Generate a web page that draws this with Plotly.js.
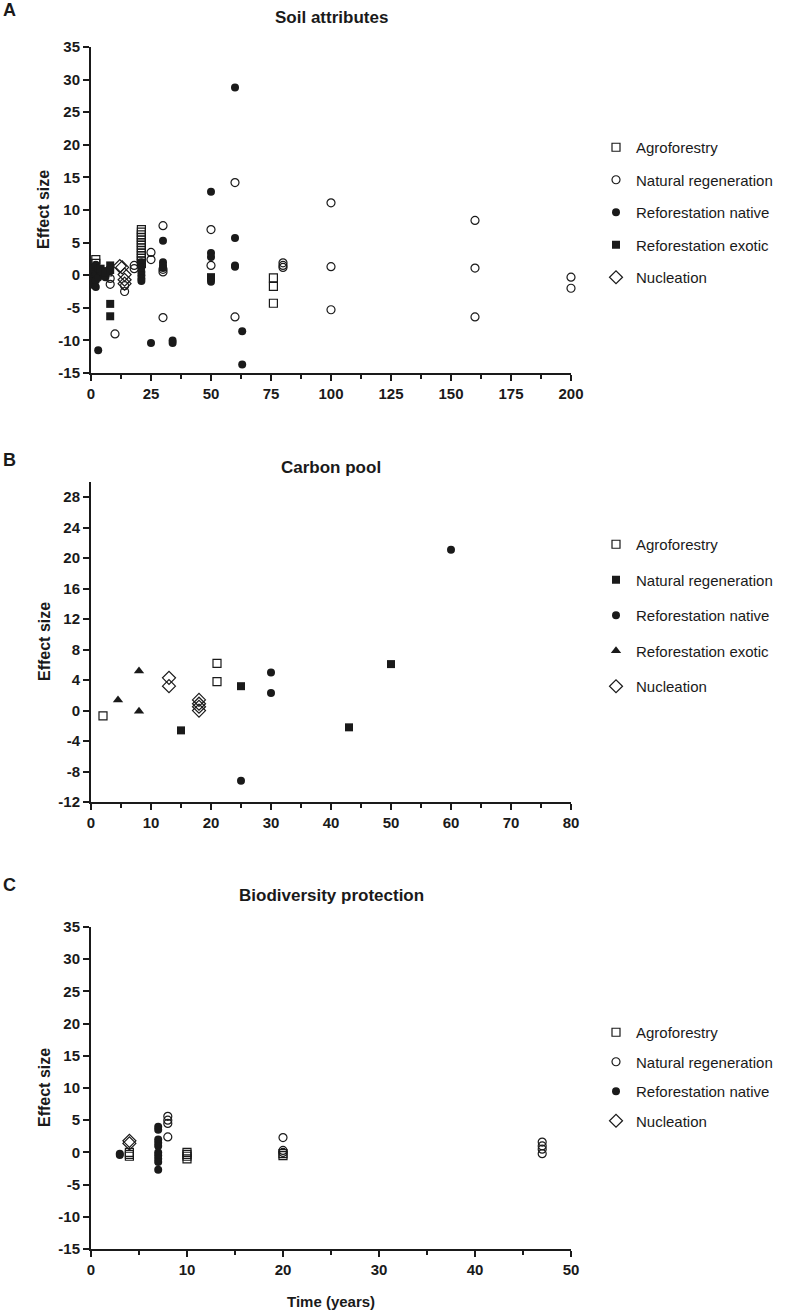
<!DOCTYPE html>
<html>
<head>
<meta charset="utf-8">
<script src="https://cdn.plot.ly/plotly-3.0.1.min.js"></script>
<style>html,body{margin:0;padding:0;background:#fff;}#chart{width:790px;height:1310px;}</style>
</head>
<body>
<div id="chart"></div>
<script>
// ---------- Panel A: Soil attributes ----------
const A_agro_x = [2, 2, 7, 21, 21, 21, 21, 21, 21, 21, 21, 21, 21, 21, 21, 21, 21, 76, 76, 76];
const A_agro_y = [2.4, 1.8, 0.5, 7.0, 6.6, 6.2, 5.8, 5.4, 5.0, 4.6, 4.2, 3.8, 3.4, 3.0, 2.6, 2.2, 1.8, -0.4, -1.7, -4.3];
const A_nat_x = [8, 8, 10, 14, 14, 18, 18, 25, 25, 30, 30, 30, 30, 50, 50, 60, 60, 80, 80, 80, 100, 100, 100, 160, 160, 160, 200, 200];
const A_nat_y = [-0.5, -1.4, -9.0, -1.6, -2.5, 1.5, 1.0, 3.5, 2.4, 7.6, 0.9, 0.5, -6.5, 7.0, 1.5, 14.2, -6.4, 1.9, 1.5, 1.2, 11.1, 1.3, -5.3, 8.4, 1.1, -6.4, -0.3, -2.0];
const A_rnat_x = [1, 1, 1, 1, 1, 2, 2, 2, 2, 3, 3, 3, 4, 5, 6, 21, 21, 21, 21, 21, 21, 25, 30, 30, 30, 30, 34, 34, 50, 50, 50, 50, 50, 60, 60, 60, 60, 63, 63];
const A_rnat_y = [1.2, 0.5, -0.3, -1.0, -1.5, 1.6, 0.2, -0.8, -1.8, 1.0, -0.4, -11.5, 0.6, 0.2, -0.3, 2.0, 1.2, 0.5, 0.0, -0.5, -0.9, -10.4, 5.3, 2.0, 1.5, 1.1, -10.0, -10.4, 12.8, 3.4, 2.8, -0.6, -1.0, 28.8, 5.7, 1.5, 1.3, -8.6, -13.7];
const A_rexo_x = [4, 5, 6, 8, 8, 8, 8, 50];
const A_rexo_y = [1.0, 0.6, 0.4, 1.5, 0.8, -4.4, -6.3, -0.3];
const A_nuc_x = [12, 13, 14, 14, 14];
const A_nuc_y = [1.4, 1.2, 0.1, -0.7, -1.3];

// ---------- Panel B: Carbon pool ----------
const B_agro_x = [2, 21, 21];
const B_agro_y = [-0.7, 6.2, 3.8];
const B_nat_x = [15, 25, 43, 50];
const B_nat_y = [-2.6, 3.2, -2.2, 6.1];
const B_rnat_x = [25, 30, 30, 60];
const B_rnat_y = [-9.2, 5.0, 2.3, 21.1];
const B_rexo_x = [4.5, 8, 8];
const B_rexo_y = [1.4, 5.2, -0.1];
const B_nuc_x = [13, 13, 18, 18, 18, 18];
const B_nuc_y = [4.3, 3.2, 1.4, 0.9, 0.5, 0.0];

// ---------- Panel C: Biodiversity protection ----------
const C_agro_x = [4, 4, 4, 10, 10, 10, 10, 20, 20];
const C_agro_y = [0.0, -0.3, -0.6, 0.0, -0.3, -0.6, -1.0, -0.2, -0.5];
const C_nat_x = [8, 8, 8, 8, 20, 20, 20, 47, 47, 47, 47];
const C_nat_y = [5.6, 5.0, 4.5, 2.4, 2.3, 0.3, 0.0, 1.6, 1.0, 0.5, -0.2];
const C_rnat_x = [3, 3, 7, 7, 7, 7, 7, 7, 7, 7, 7, 7];
const C_rnat_y = [-0.2, -0.4, 4.0, 3.5, 2.0, 1.5, 1.0, 0.0, -0.5, -1.0, -1.5, -2.7];
const C_nuc_x = [4, 4];
const C_nuc_y = [1.8, 1.4];

// tick labels
const A_xticks = [0, 25, 50, 75, 100, 125, 150, 175, 200];
const A_yticks = [-15, -10, -5, 0, 5, 10, 15, 20, 25, 30, 35];
const B_xticks = [0, 10, 20, 30, 40, 50, 60, 70, 80];
const B_yticks = [-12, -8, -4, 0, 4, 8, 12, 16, 20, 24, 28];
const C_xticks = [0, 10, 20, 30, 40, 50];
const C_yticks = [-15, -10, -5, 0, 5, 10, 15, 20, 25, 30, 35];

// labels
const titles = ["Soil attributes", "Carbon pool", "Biodiversity protection"];
const panelLetters = ["A", "B", "C"];
const namesA = ["Agroforestry", "Natural regeneration", "Reforestation native", "Reforestation exotic", "Nucleation"];
const namesB = ["Agroforestry", "Natural regeneration", "Reforestation native", "Reforestation exotic", "Nucleation"];
const namesC = ["Agroforestry", "Natural regeneration", "Reforestation native", "Nucleation"];

const W = 790, H = 1310;
const px = v => v / W;
const py = v => 1 - v / H;
const ink = '#1a1a1a';
const FAM = 'Arial, Liberation Sans, sans-serif';

function tr(x, y, name, symbol, xa, ya, leg, grp) {
  const open = symbol.indexOf('open') >= 0;
  let size = 8;
  if (symbol.indexOf('diamond') >= 0) size = 10;
  if (symbol.indexOf('triangle') >= 0) size = 9;
  return {
    type: 'scatter', mode: 'markers', x: x, y: y, name: name,
    xaxis: xa, yaxis: ya, legend: leg, legendgroup: grp, cliponaxis: false,
    marker: {symbol: symbol, size: size, color: ink, line: {color: ink, width: open ? 1.2 : 0}}
  };
}

const data = [
  tr(A_agro_x, A_agro_y, namesA[0], 'square-open', 'x', 'y', 'legend', 'a1'),
  tr(A_nat_x, A_nat_y, namesA[1], 'circle-open', 'x', 'y', 'legend', 'a2'),
  tr(A_rnat_x, A_rnat_y, namesA[2], 'circle', 'x', 'y', 'legend', 'a3'),
  tr(A_rexo_x, A_rexo_y, namesA[3], 'square', 'x', 'y', 'legend', 'a4'),
  tr(A_nuc_x, A_nuc_y, namesA[4], 'diamond-open', 'x', 'y', 'legend', 'a5'),

  tr(B_agro_x, B_agro_y, namesB[0], 'square-open', 'x2', 'y2', 'legend2', 'b1'),
  tr(B_nat_x, B_nat_y, namesB[1], 'square', 'x2', 'y2', 'legend2', 'b2'),
  tr(B_rnat_x, B_rnat_y, namesB[2], 'circle', 'x2', 'y2', 'legend2', 'b3'),
  tr(B_rexo_x, B_rexo_y, namesB[3], 'triangle-up', 'x2', 'y2', 'legend2', 'b4'),
  tr(B_nuc_x, B_nuc_y, namesB[4], 'diamond-open', 'x2', 'y2', 'legend2', 'b5'),

  tr(C_agro_x, C_agro_y, namesC[0], 'square-open', 'x3', 'y3', 'legend3', 'c1'),
  tr(C_nat_x, C_nat_y, namesC[1], 'circle-open', 'x3', 'y3', 'legend3', 'c2'),
  tr(C_rnat_x, C_rnat_y, namesC[2], 'circle', 'x3', 'y3', 'legend3', 'c3'),
  tr(C_nuc_x, C_nuc_y, namesC[3], 'diamond-open', 'x3', 'y3', 'legend3', 'c4')
];

const tickFont = {family: FAM, size: 15, color: ink};
const bold = arr => arr.map(v => '<b>' + v + '</b>');
function xax(domain, range, ticks, minor, anchor) {
  return {domain: domain, range: range, tickmode: 'array', tickvals: ticks, ticktext: bold(ticks), anchor: anchor,
    showline: true, linewidth: 2, linecolor: ink, ticks: 'outside', ticklen: 6, tickwidth: 2, tickcolor: ink,
    minor: {ticks: 'outside', ticklen: 4, tickwidth: 2, tickcolor: ink, dtick: minor, tick0: 0},
    showgrid: false, zeroline: false, tickfont: tickFont, fixedrange: true};
}
function yax(domain, range, ticks, anchor) {
  return {domain: domain, range: range, tickmode: 'array', tickvals: ticks, ticktext: bold(ticks), anchor: anchor,
    showline: true, linewidth: 2, linecolor: ink, ticks: 'outside', ticklen: 6, tickwidth: 2, tickcolor: ink,
    showgrid: false, zeroline: false, tickfont: tickFont, fixedrange: true};
}
function leg(xp, yp, gap) {
  return {x: px(xp), y: py(yp), xanchor: 'left', yanchor: 'top', traceorder: 'grouped', tracegroupgap: gap,
    font: {family: FAM, size: 15, color: ink}, bgcolor: 'rgba(0,0,0,0)', itemclick: false};
}

const xd = [px(91), px(571)];
const layout = {
  width: W, height: H, margin: {l: 0, r: 0, t: 0, b: 0}, paper_bgcolor: '#fff', plot_bgcolor: '#fff',
  showlegend: true,
  xaxis: xax(xd, [0, 200], A_xticks, 12.5, 'y'),
  yaxis: yax([py(373), py(47)], [-15, 35], A_yticks, 'x'),
  xaxis2: xax(xd, [0, 80], B_xticks, 5, 'y2'),
  yaxis2: yax([py(802), py(482)], [-12, 30], B_yticks, 'x2'),
  xaxis3: xax(xd, [0, 50], C_xticks, 5, 'y3'),
  yaxis3: yax([py(1249), py(927)], [-15, 35], C_yticks, 'x3'),
  legend: leg(596, 131, 10),
  legend2: leg(596, 528, 13),
  legend3: leg(596, 1016, 7),
  annotations: []
};

const titleY = [17, 468, 895];
const letterY = [10, 460, 885];
const effY = [210, 642, 1088];
for (let i = 0; i < 3; i++) {
  layout.annotations.push({xref: 'paper', yref: 'paper', x: px(331), y: py(titleY[i]), text: '<b>' + titles[i] + '</b>',
    showarrow: false, xanchor: 'center', yanchor: 'middle', font: {family: FAM, size: 17, color: ink}});
  layout.annotations.push({xref: 'paper', yref: 'paper', x: px(1), y: py(letterY[i]), text: '<b>' + panelLetters[i] + '</b>',
    showarrow: false, xanchor: 'left', yanchor: 'middle', font: {family: FAM, size: 18, color: ink}});
  layout.annotations.push({xref: 'paper', yref: 'paper', x: px(44), y: py(effY[i]), text: '<b>Effect size</b>', textangle: -90,
    showarrow: false, xanchor: 'center', yanchor: 'middle', font: {family: FAM, size: 16, color: ink}});
}
layout.annotations.push({xref: 'paper', yref: 'paper', x: px(331), y: py(1301), text: '<b>Time (years)</b>',
  showarrow: false, xanchor: 'center', yanchor: 'middle', font: {family: FAM, size: 15, color: ink}});

Plotly.newPlot('chart', data, layout, {staticPlot: true});
</script>
</body>
</html>
